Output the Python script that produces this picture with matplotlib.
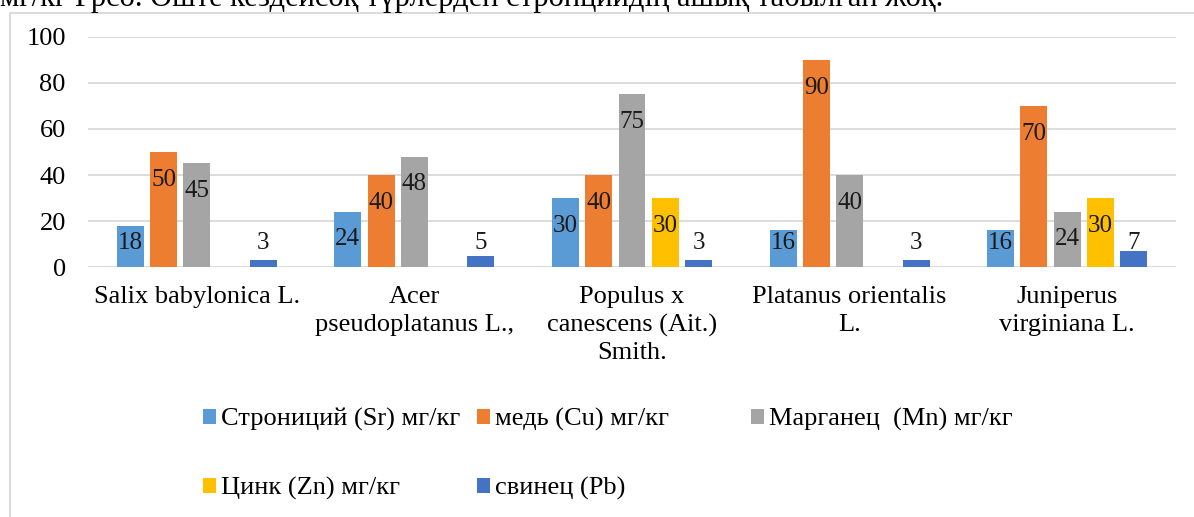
import numpy as np
import matplotlib.pyplot as plt
from matplotlib.patches import Rectangle

plt.rcParams['font.family'] = ['Liberation Serif', 'DejaVu Serif']

species = ["Salix babylonica L.", "Acer\npseudoplatanus L.,", "Populus x\ncanescens (Ait.)\nSmith.",
           "Platanus orientalis\nL.", "Juniperus\nvirginiana L."]
sr = [18, 24, 30, 16, 16]
cu = [50, 40, 40, 90, 70]
mn = [45, 48, 75, 40, 24]
zn = [np.nan, np.nan, 30, np.nan, 30]
pb = [3, 5, 3, 3, 7]

names = ["Строниций (Sr) мг/кг", "медь (Cu) мг/кг", "Марганец  (Mn) мг/кг", "Цинк (Zn) мг/кг", "свинец (Pb)"]
colors = ["#5B9BD5", "#ED7D31", "#A5A5A5", "#FFC000", "#4472C4"]
series = [sr, cu, mn, zn, pb]

fig = plt.figure(figsize=(11.94, 5.17), dpi=100)
W, H = 1194, 517

# frame of the chart box in the scanned page
fig.patches.append(Rectangle((10 / W, -0.1), 1.2, 1 - 13 / H + 0.1, transform=fig.transFigure,
                             fill=False, edgecolor="#d4d4d4", linewidth=1.2))

# sentence of the page above the chart, cut off by the scan
fig.text(0.0, 1 - 6 / H, "мг/кг Грсо. Өште кездейсоқ түрлерден стронцийдің ашық табылған жоқ.",
         fontsize=22, va="baseline", ha="left", color="black")

ax = fig.add_axes([88 / W, 1 - 267 / H, (1176 - 88) / W, (267 - 37) / H])
x = np.arange(len(species))
step = 0.153
width = 0.124

handles = []
for j, (vals, c) in enumerate(zip(series, colors)):
    vals = np.array(vals, dtype=float)
    pos = x + (j - 2) * step
    b = ax.bar(pos, vals, width, color=c, zorder=3, label=names[j])
    handles.append(b)
    for p, v in zip(pos, vals):
        if np.isnan(v):
            continue
        ax.text(p, max(v - 12, 10.5), "%d" % v, ha="center", va="center", fontsize=18, color="#1a1a1a", zorder=4)

ax.set_xlim(-0.5, len(species) - 0.5)
ax.set_ylim(0, 100)
ax.set_yticks([0, 20, 40, 60, 80, 100])
ax.set_xticks(x)
ax.set_xticklabels(species, fontsize=19, linespacing=1.3, va="top")
ax.tick_params(axis="y", length=0, pad=16, labelsize=19)
ax.tick_params(axis="x", length=0, pad=14)
ax.grid(axis="y", color="#d9d9d9", linewidth=1.3, zorder=0)
for s in ax.spines.values():
    s.set_visible(False)

# legend columns, Excel-style with equal column widths
cols = [(203, [0, 3]), (477, [1, 4]), (751, [2])]
for cx, idx in cols:
    fig.legend([handles[i] for i in idx], [names[i] for i in idx],
               loc="upper left", bbox_to_anchor=(cx / W, 1 - 408 / H),
               frameon=False, fontsize=19, handlelength=0.5, handleheight=0.5,
               handletextpad=0.2, labelspacing=1.75, borderpad=0, borderaxespad=0)

plt.savefig("out.png", dpi=100)
